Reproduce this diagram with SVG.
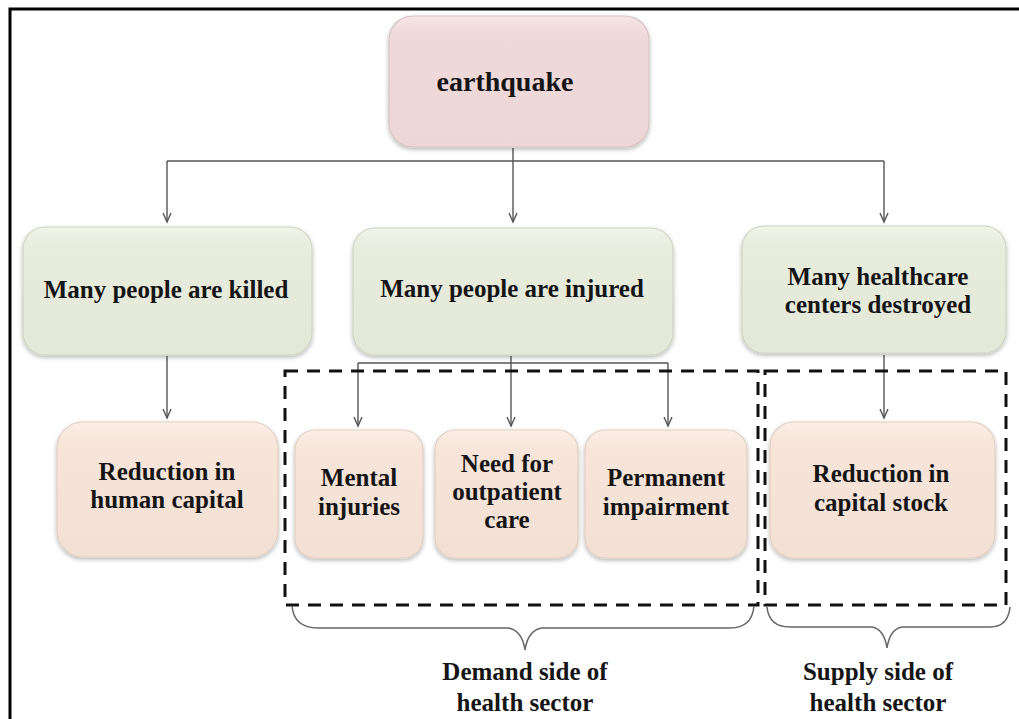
<svg xmlns="http://www.w3.org/2000/svg" width="1019" height="719" viewBox="0 0 1019 719">
<style>
  .t { font-family: "Liberation Serif", "Times New Roman", serif; font-weight: bold; fill: #151515; text-anchor: middle; }
  .n { font-size: 25px; }
  .big { font-size: 28px; }
  .conn { stroke: #555; stroke-width: 1.4; fill: none; }
  .dash { stroke: #111; stroke-width: 3; fill: none; stroke-dasharray: 13 9; }
  .brace { stroke: #666; stroke-width: 1.5; fill: none; }
  .pink { fill: url(#gPink); stroke: #d8c3c3; stroke-width: 1.2; filter: url(#sh); }
  .green { fill: url(#gGreen); stroke: #cfd4c2; stroke-width: 1.2; filter: url(#sh); }
  .peach { fill: url(#gPeach); stroke: #e0cfc2; stroke-width: 1.2; filter: url(#sh); }
</style>
<defs>
  <linearGradient id="gPink" x1="0" y1="0" x2="0" y2="1">
    <stop offset="0" stop-color="#f6e6e6"/><stop offset="0.15" stop-color="#efd9da"/><stop offset="1" stop-color="#ecd6d6"/>
  </linearGradient>
  <linearGradient id="gGreen" x1="0" y1="0" x2="0" y2="1">
    <stop offset="0" stop-color="#f1f4e9"/><stop offset="0.15" stop-color="#e8ecdd"/><stop offset="1" stop-color="#e4e8d8"/>
  </linearGradient>
  <linearGradient id="gPeach" x1="0" y1="0" x2="0" y2="1">
    <stop offset="0" stop-color="#fbefe7"/><stop offset="0.15" stop-color="#f7e5da"/><stop offset="1" stop-color="#f3e0d4"/>
  </linearGradient>
  <filter id="sh" x="-10%" y="-10%" width="120%" height="125%">
    <feDropShadow dx="0" dy="2" stdDeviation="2" flood-color="#000" flood-opacity="0.28"/>
  </filter>
  <marker id="arr" markerWidth="12" markerHeight="10" refX="10" refY="5" orient="auto" markerUnits="userSpaceOnUse">
    <path d="M1,1 L10,5 L1,9" fill="none" stroke="#555" stroke-width="1.4"/>
  </marker>
</defs>
<rect width="1019" height="719" fill="#fff"/>
<!-- frame -->
<path d="M10,719 V9 H1019" fill="none" stroke="#000" stroke-width="3"/>

<g id="connectors">
  <path class="conn" d="M513,148 V161"/>
  <path class="conn" d="M167,161 H884"/>
  <path class="conn" d="M167,161 V222" marker-end="url(#arr)"/>
  <path class="conn" d="M513,161 V222" marker-end="url(#arr)"/>
  <path class="conn" d="M884,161 V222" marker-end="url(#arr)"/>
  <path class="conn" d="M167,356 V418" marker-end="url(#arr)"/>
  <path class="conn" d="M511,356 V363"/>
  <path class="conn" d="M358,363 H668"/>
  <path class="conn" d="M358,363 V426" marker-end="url(#arr)"/>
  <path class="conn" d="M511,363 V426" marker-end="url(#arr)"/>
  <path class="conn" d="M668,363 V426" marker-end="url(#arr)"/>
  <path class="conn" d="M884,355 V418" marker-end="url(#arr)"/>
</g>

<g id="earthquake">
  <rect class="pink" x="389" y="16" width="260" height="131" rx="24"/>
  <text class="t big" x="505" y="91">earthquake</text>
</g>

<g id="killed">
  <rect class="green" x="23" y="227" width="289" height="128" rx="22"/>
  <text class="t n" x="166" y="298">Many people are killed</text>
</g>
<g id="injured">
  <rect class="green" x="353" y="228" width="320" height="127" rx="22"/>
  <text class="t n" x="512" y="297">Many people are injured</text>
</g>
<g id="healthcare">
  <rect class="green" x="742" y="226" width="264" height="127" rx="22"/>
  <text class="t n" x="878" y="285">Many healthcare</text>
  <text class="t n" x="878" y="313">centers destroyed</text>
</g>

<g id="human-capital">
  <rect class="peach" x="57" y="422" width="221" height="135" rx="26"/>
  <text class="t n" x="167" y="480">Reduction in</text>
  <text class="t n" x="167" y="508">human capital</text>
</g>
<g id="mental">
  <rect class="peach" x="295" y="430" width="128" height="128" rx="20"/>
  <text class="t n" x="359" y="486">Mental</text>
  <text class="t n" x="359" y="515">injuries</text>
</g>
<g id="outpatient">
  <rect class="peach" x="435" y="430" width="143" height="128" rx="20"/>
  <text class="t n" x="507" y="472">Need for</text>
  <text class="t n" x="507" y="500">outpatient</text>
  <text class="t n" x="507" y="528">care</text>
</g>
<g id="impairment">
  <rect class="peach" x="585" y="430" width="162" height="128" rx="20"/>
  <text class="t n" x="666" y="486">Permanent</text>
  <text class="t n" x="666" y="515">impairment</text>
</g>
<g id="capital-stock">
  <rect class="peach" x="770" y="422" width="225" height="136" rx="24"/>
  <text class="t n" x="881" y="482">Reduction in</text>
  <text class="t n" x="881" y="511">capital stock</text>
</g>

<g id="demand-group">
  <rect class="dash" x="285" y="371" width="473" height="234"/>
  <path class="brace" d="M292,606 Q294,628 318,628 H508 Q522,630 525,650 Q528,630 542,628 H730 Q752,628 754,606"/>
  <text class="t n" x="525" y="680">Demand side of</text>
  <text class="t n" x="525" y="711">health sector</text>
</g>
<g id="supply-group">
  <rect class="dash" x="765" y="371" width="241" height="234"/>
  <path class="brace" d="M767,607 Q769,627 790,627 H872 Q884,629 887,648 Q890,629 902,627 H990 Q1008,627 1010,607"/>
  <text class="t n" x="878" y="680">Supply side of</text>
  <text class="t n" x="878" y="711">health sector</text>
</g>
</svg>
